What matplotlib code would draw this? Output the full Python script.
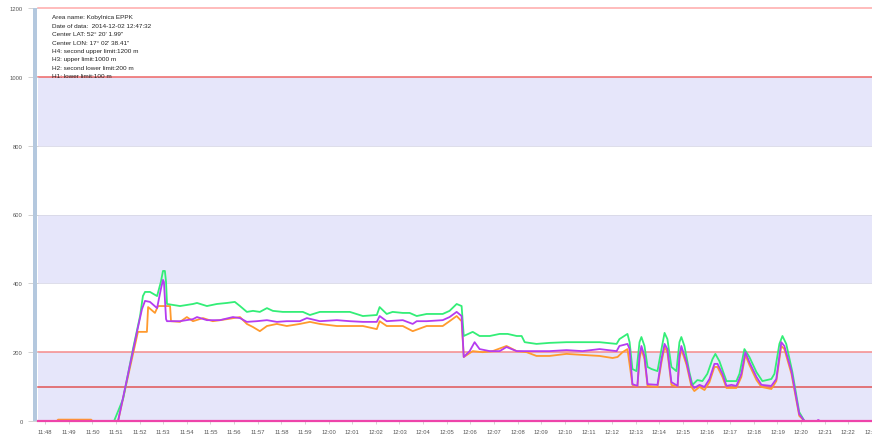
import matplotlib
matplotlib.use("Agg")
import matplotlib.pyplot as plt
from matplotlib.patches import Rectangle

plt.rcParams['font.family'] = ['Liberation Sans', 'DejaVu Sans']

# minutes after 11:48:00
tick_labels = ["11:48", "11:49", "11:50", "11:51", "11:52", "11:53", "11:54", "11:55",
               "11:56", "11:57", "11:58", "11:59", "12:00", "12:01", "12:02", "12:03",
               "12:04", "12:05", "12:06", "12:07", "12:08", "12:09", "12:10", "12:11",
               "12:12", "12:13", "12:14", "12:15", "12:16", "12:17", "12:18", "12:19",
               "12:20", "12:21", "12:22", "12:23"]

info_lines = ["Area name: Kobylnica EPPK",
              "Date of data:  2014-12-02 12:47:32",
              "Center LAT: 52\u00b0 20' 1.99\"",
              "Center LON: 17\u00b0 02' 38.41\"",
              "H4: second upper limit:1200 m",
              "H3: upper limit:1000 m",
              "H2: second lower limit:200 m",
              "H1: lower limit:100 m"]

limits = [100, 200, 1000, 1200]
limit_colors = ["#e05555", "#f58a8a", "#ee6666", "#ffaaaa"]
bands = [(0, 200), (400, 600), (800, 1000)]

green_t = [0, 2.92, 3.30, 3.72, 4.02, 4.14, 4.23, 4.44, 4.74, 4.90, 4.99, 5.07, 5.12, 5.16,
           5.71, 6.26, 6.43, 6.85, 7.27, 7.70, 8.03, 8.25, 8.54, 8.80, 9.09, 9.39, 9.64,
           10.06, 10.49, 10.91, 11.21, 11.63, 12.35, 12.90, 13.45, 14.04, 14.16, 14.46,
           14.71, 15.14, 15.43, 15.73, 16.15, 16.83, 17.12, 17.42, 17.63, 17.72, 18.10,
           18.39, 18.82, 19.24, 19.58, 19.96, 20.17, 20.30, 20.80, 21.35, 22.07, 22.75,
           23.47, 24.19, 24.31, 24.65, 24.74, 24.86, 25.03, 25.16, 25.24, 25.37, 25.50,
           25.67, 25.92, 26.09, 26.22, 26.34, 26.51, 26.72, 26.85, 26.93, 27.06, 27.27,
           27.40, 27.61, 27.82, 28.03, 28.25, 28.37, 28.54, 28.84, 29.05, 29.26, 29.39,
           29.60, 29.81, 30.11, 30.36, 30.74, 30.87, 31.08, 31.21, 31.37, 31.63, 31.92,
           32.14, 32.8]
green_v = [0, 0, 64, 209, 305, 363, 375, 375, 363, 404, 436, 436, 404, 340,
           334, 340, 343, 334, 340, 343, 346, 334, 317, 320, 317, 328, 320,
           317, 317, 317, 308, 317, 317, 317, 305, 308, 331, 311,
           317, 314, 314, 305, 311, 311, 320, 340, 334, 247, 259,
           247, 247, 253, 253, 247, 247, 229, 224, 227, 229, 229,
           229, 224, 238, 253, 229, 151, 145, 229, 244, 218, 157,
           151, 145, 209, 256, 238, 157, 145, 229, 244, 218, 142,
           105, 119, 116, 137, 180, 195, 174, 116, 116, 116, 137,
           209, 186, 142, 116, 122, 137, 224, 247, 224, 142, 26,
           0, 0]

purple_t = [0, 3.09, 3.89, 4.10, 4.23, 4.44, 4.74, 4.90, 4.99, 5.03, 5.12, 5.16, 5.71,
            6.26, 6.43, 6.85, 7.40, 7.95, 8.25, 8.54, 8.96, 9.39, 9.81, 10.23, 10.78,
            11.08, 11.63, 12.35, 12.90, 13.45, 14.04, 14.16, 14.46, 15.14, 15.56, 15.73,
            16.15, 16.83, 17.12, 17.42, 17.63, 17.72, 17.97, 18.18, 18.39, 18.82, 19.24,
            19.53, 19.96, 20.38, 20.80, 21.35, 22.07, 22.75, 23.47, 24.19, 24.31, 24.65,
            24.74, 24.86, 25.07, 25.16, 25.24, 25.37, 25.50, 25.92, 26.09, 26.22, 26.34,
            26.51, 26.77, 26.85, 26.93, 27.15, 27.36, 27.48, 27.70, 27.91, 28.12, 28.33,
            28.46, 28.67, 28.84, 29.05, 29.26, 29.47, 29.64, 29.81, 30.11, 30.32, 30.74,
            30.95, 31.16, 31.29, 31.59, 31.92, 32.14, 32.68, 32.72, 32.8]
purple_v = [0, 0, 259, 325, 349, 346, 328, 383, 410, 404, 296, 290, 290,
            296, 302, 293, 293, 302, 299, 288, 290, 293, 288, 290, 290,
            299, 290, 293, 290, 288, 288, 305, 290, 293, 282, 290,
            290, 293, 302, 317, 305, 186, 203, 229, 209, 203, 203,
            215, 203, 203, 203, 203, 206, 203, 209, 203, 218, 224,
            209, 107, 102, 189, 218, 189, 107, 105, 180, 224, 209,
            113, 102, 189, 218, 171, 107, 96, 105, 99, 122, 166,
            166, 137, 102, 105, 102, 137, 200, 171, 128, 105, 102,
            122, 229, 218, 145, 20, 0, 0, 3, 0]

orange_t = [0, 0.5, 0.55, 1.95, 2.0, 3.09, 3.93, 4.31, 4.36, 4.65, 4.78, 5.29, 5.33, 5.71,
            6.00, 6.26, 6.68, 7.10, 7.70, 8.25, 8.54, 8.80, 9.09, 9.39, 9.81, 10.23,
            10.78, 11.21, 11.63, 12.35, 12.90, 13.45, 14.04, 14.16, 14.46, 15.14, 15.56,
            16.15, 16.83, 17.12, 17.42, 17.63, 17.72, 18.10, 18.52, 18.94, 19.53, 19.96,
            20.38, 20.80, 21.35, 22.07, 22.75, 23.47, 24.02, 24.23, 24.44, 24.65, 24.86,
            25.07, 25.16, 25.24, 25.37, 25.50, 25.92, 26.09, 26.22, 26.34, 26.51, 26.77,
            26.85, 26.93, 27.15, 27.36, 27.48, 27.70, 27.91, 28.12, 28.33, 28.46, 28.67,
            28.84, 29.05, 29.26, 29.47, 29.64, 29.81, 30.11, 30.32, 30.74, 30.95, 31.16,
            31.29, 31.59, 31.92, 32.14, 32.8]
orange_v = [0, 0, 4, 4, 0, 0, 259, 259, 331, 314, 334, 334, 290, 288,
            302, 290, 299, 290, 296, 302, 282, 273, 261, 276, 282, 276,
            282, 288, 282, 276, 276, 276, 267, 290, 276, 276, 261,
            276, 276, 290, 305, 290, 186, 203, 200, 203, 218, 203,
            200, 189, 189, 195, 192, 189, 183, 186, 200, 209, 105,
            99, 180, 209, 180, 102, 99, 171, 215, 200, 105, 99,
            180, 209, 163, 99, 87, 99, 90, 113, 157, 157, 128,
            96, 96, 96, 128, 192, 163, 119, 99, 93, 116, 218,
            209, 137, 15, 0, 0]

W, H = 872, 439
fig = plt.figure(figsize=(W / 100, H / 100), dpi=100)
ax = fig.add_axes([38 / W, 17 / H, 834 / W, 413 / H])

for lo, hi in bands:
    ax.axhspan(lo, hi, color="#e6e6fa", lw=0, zorder=0)
for y in [400, 600, 800]:
    ax.axhline(y, color="#d8d8e6", lw=0.6, zorder=0.5)
for y, c in zip(limits, limit_colors):
    ax.axhline(y, color=c, lw=1.1, zorder=1, clip_on=False)

ax.plot(orange_t, orange_v, color="#ff9a2e", lw=1.3, zorder=2)
ax.plot(green_t, green_v, color="#33ee77", lw=1.3, zorder=3)
ax.plot(purple_t, purple_v, color="#b53cf0", lw=1.3, zorder=4)
ax.axhline(0, color="#ee44aa", lw=1.6, zorder=5, clip_on=False)

ax.set_xlim(-0.3, 34.97)
ax.set_ylim(0, 1200)
ax.set_xticks(range(len(tick_labels)))
ax.set_xticklabels(tick_labels)
ax.set_yticks([0, 200, 400, 600, 800, 1000, 1200])
ax.tick_params(axis="x", labelsize=4.2, colors="#cccccc", labelcolor="#555555",
               length=2.5, width=0.6, pad=3)
ax.tick_params(axis="y", labelsize=4.2, colors="#cccccc", labelcolor="#555555",
               length=7, width=0.6, pad=4)
for s in ax.spines.values():
    s.set_visible(False)

# blue side bar
fig.patches.append(Rectangle((33 / W, 17 / H), 4 / W, 413 / H, transform=fig.transFigure,
                             facecolor="#b4c8de", edgecolor="none", zorder=1))

for i, line in enumerate(info_lines):
    fig.text(52 / W, 1 - (18 + 8.4 * i) / H, line, fontsize=4.6, color="#222222",
             va="center", ha="left")

fig.savefig("out.png", dpi=100)
